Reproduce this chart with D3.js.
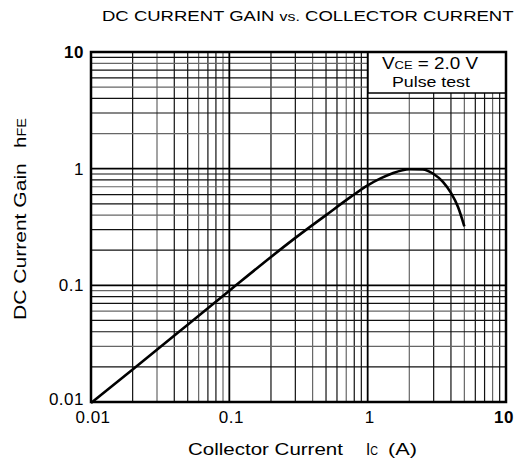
<!DOCTYPE html>
<html>
<head>
<meta charset="utf-8">
<script src="https://cdn.jsdelivr.net/npm/d3@7"></script>
<style>
  body { margin: 0; background: #fff; }
  svg { font-family: "Liberation Sans", Arial, sans-serif; }
</style>
</head>
<body>
<div id="chart"></div>
<script>
// Curve (Ic in A, hFE)
var current = [0.01, 0.02, 0.05, 0.1, 0.2, 0.3, 0.5, 0.75, 1.0, 1.25, 1.5, 2.0, 2.5, 3.0, 3.5, 4.0, 4.5, 5.0];
var gain = [0.0098, 0.019, 0.046, 0.09, 0.175, 0.255, 0.4, 0.57, 0.72, 0.83, 0.91, 0.99, 0.985, 0.9, 0.77, 0.62, 0.47, 0.32];

var xTicks = [0.01, 0.1, 1, 10];
var yTicks = [0.01, 0.1, 1, 10];
var xTickLabels = ['0.01', '0.1', '1', '10'];
var yTickLabels = ['0.01', '0.1', '1', '10'];

var width = 522;
var height = 464;
var margin = {top: 52, right: 16, bottom: 62, left: 91};

var svg = d3.select('#chart')
  .append('svg')
  .attr('width', width)
  .attr('height', height);

var x = d3.scaleLog()
  .domain([0.01, 10])
  .range([margin.left, width - margin.right]);

var y = d3.scaleLog()
  .domain([0.01, 10])
  .range([height - margin.bottom, margin.top]);

// stretch a text horizontally to the width it has on the scan
function fitText(t, x0, y0, target, angle) {
  var w = t.node().getComputedTextLength();
  t.attr('transform', 'translate(' + x0 + ',' + y0 + ') rotate(' + (angle || 0) + ') scale(' + (target / w) + ',1)');
}

// grid lines at 1..9 of every decade
var minor = [];
[0.01, 0.1, 1].forEach(function(d) {
  for (var k = 2; k <= 9; k++) minor.push(d * k);
});

svg.append('g')
  .selectAll('line')
  .data(minor)
  .enter().append('line')
  .attr('x1', function(d) { return x(d); })
  .attr('x2', function(d) { return x(d); })
  .attr('y1', y(0.01))
  .attr('y2', y(10))
  .style('stroke', function(d, i) { return i % 3 === 1 ? '#666' : '#111'; })
  .style('stroke-width', 1.2);

svg.append('g')
  .selectAll('line')
  .data(minor)
  .enter().append('line')
  .attr('x1', x(0.01))
  .attr('x2', x(10))
  .attr('y1', function(d) { return y(d); })
  .attr('y2', function(d) { return y(d); })
  .style('stroke', function(d, i) { return i % 3 === 1 ? '#666' : '#111'; })
  .style('stroke-width', 1.2);

// decade lines
svg.append('g')
  .selectAll('line')
  .data([0.1, 1])
  .enter().append('line')
  .attr('x1', function(d) { return x(d); })
  .attr('x2', function(d) { return x(d); })
  .attr('y1', y(0.01))
  .attr('y2', y(10))
  .style('stroke', '#000')
  .style('stroke-width', 1.8);

svg.append('g')
  .selectAll('line')
  .data([0.1, 1])
  .enter().append('line')
  .attr('x1', x(0.01))
  .attr('x2', x(10))
  .attr('y1', function(d) { return y(d); })
  .attr('y2', function(d) { return y(d); })
  .style('stroke', '#000')
  .style('stroke-width', 1.8);

// condition box
var boxX = 368;
svg.append('rect')
  .attr('x', boxX)
  .attr('y', y(10))
  .attr('width', x(10) - boxX)
  .attr('height', 41)
  .style('fill', '#fff')
  .style('stroke', '#000')
  .style('stroke-width', 1.5);

var vce = svg.append('text')
  .style('font-size', '16px');
vce.append('tspan').text('V');
vce.append('tspan').style('font-size', '11px').text('CE');
vce.append('tspan').text(' = 2.0 V');
fitText(vce, 382, 69, 96);

var pulse = svg.append('text')
  .style('font-size', '15px')
  .text('Pulse test');
fitText(pulse, 392, 87, 78);

// curve
var line = d3.line()
  .x(function(d, i) { return x(current[i]); })
  .y(function(d, i) { return y(gain[i]); })
  .curve(d3.curveMonotoneX);

svg.append('path')
  .datum(gain)
  .attr('d', line)
  .style('fill', 'none')
  .style('stroke', '#000')
  .style('stroke-width', 2.6);

// frame
svg.append('rect')
  .attr('x', x(0.01))
  .attr('y', y(10))
  .attr('width', x(10) - x(0.01))
  .attr('height', y(0.01) - y(10))
  .style('fill', 'none')
  .style('stroke', '#000')
  .style('stroke-width', 2.5);

// tick labels
svg.append('g')
  .selectAll('text')
  .data(xTicks)
  .enter().append('text')
  .attr('x', function(d, i) { return i === 3 ? x(d) - 2 : x(d) + 2; })
  .attr('y', 423)
  .attr('text-anchor', 'middle')
  .style('font-size', '17px')
  .style('letter-spacing', '0.5px')
  .style('font-weight', function(d, i) { return i === 3 ? 'bold' : 'normal'; })
  .text(function(d, i) { return xTickLabels[i]; });

svg.append('g')
  .selectAll('text')
  .data(yTicks)
  .enter().append('text')
  .attr('x', 84)
  .attr('y', function(d) { return y(d); })
  .attr('dy', function(d, i) { return i === 0 ? '0.2em' : '0.35em'; })
  .attr('text-anchor', 'end')
  .style('font-size', '17px')
  .style('letter-spacing', '0.5px')
  .style('font-weight', function(d, i) { return i === 3 ? 'bold' : 'normal'; })
  .text(function(d, i) { return yTickLabels[i]; });

// titles
var title = svg.append('text')
  .style('font-size', '14px');
title.append('tspan').text('DC CURRENT GAIN ');
title.append('tspan').style('font-size', '12px').text('vs.');
title.append('tspan').text(' COLLECTOR CURRENT');
fitText(title, 102, 21, 412);

var xl = svg.append('text')
  .style('font-size', '17px')
  .text('Collector Current');
fitText(xl, 188, 455, 155);

var ic = svg.append('text')
  .style('font-size', '17px');
ic.append('tspan').text('I');
ic.append('tspan').style('font-size', '12px').text('C');
fitText(ic, 366, 455, 12);

var unit = svg.append('text')
  .style('font-size', '17px')
  .text('(A)');
fitText(unit, 388, 455, 29);

var yl = svg.append('text')
  .style('font-size', '17px')
  .text('DC Current Gain');
fitText(yl, 26, 320, 157, -90);

var hfe = svg.append('text')
  .style('font-size', '17px');
hfe.append('tspan').text('h');
hfe.append('tspan').style('font-size', '12px').text('FE');
fitText(hfe, 26, 148, 30, -90);
</script>
</body>
</html>
